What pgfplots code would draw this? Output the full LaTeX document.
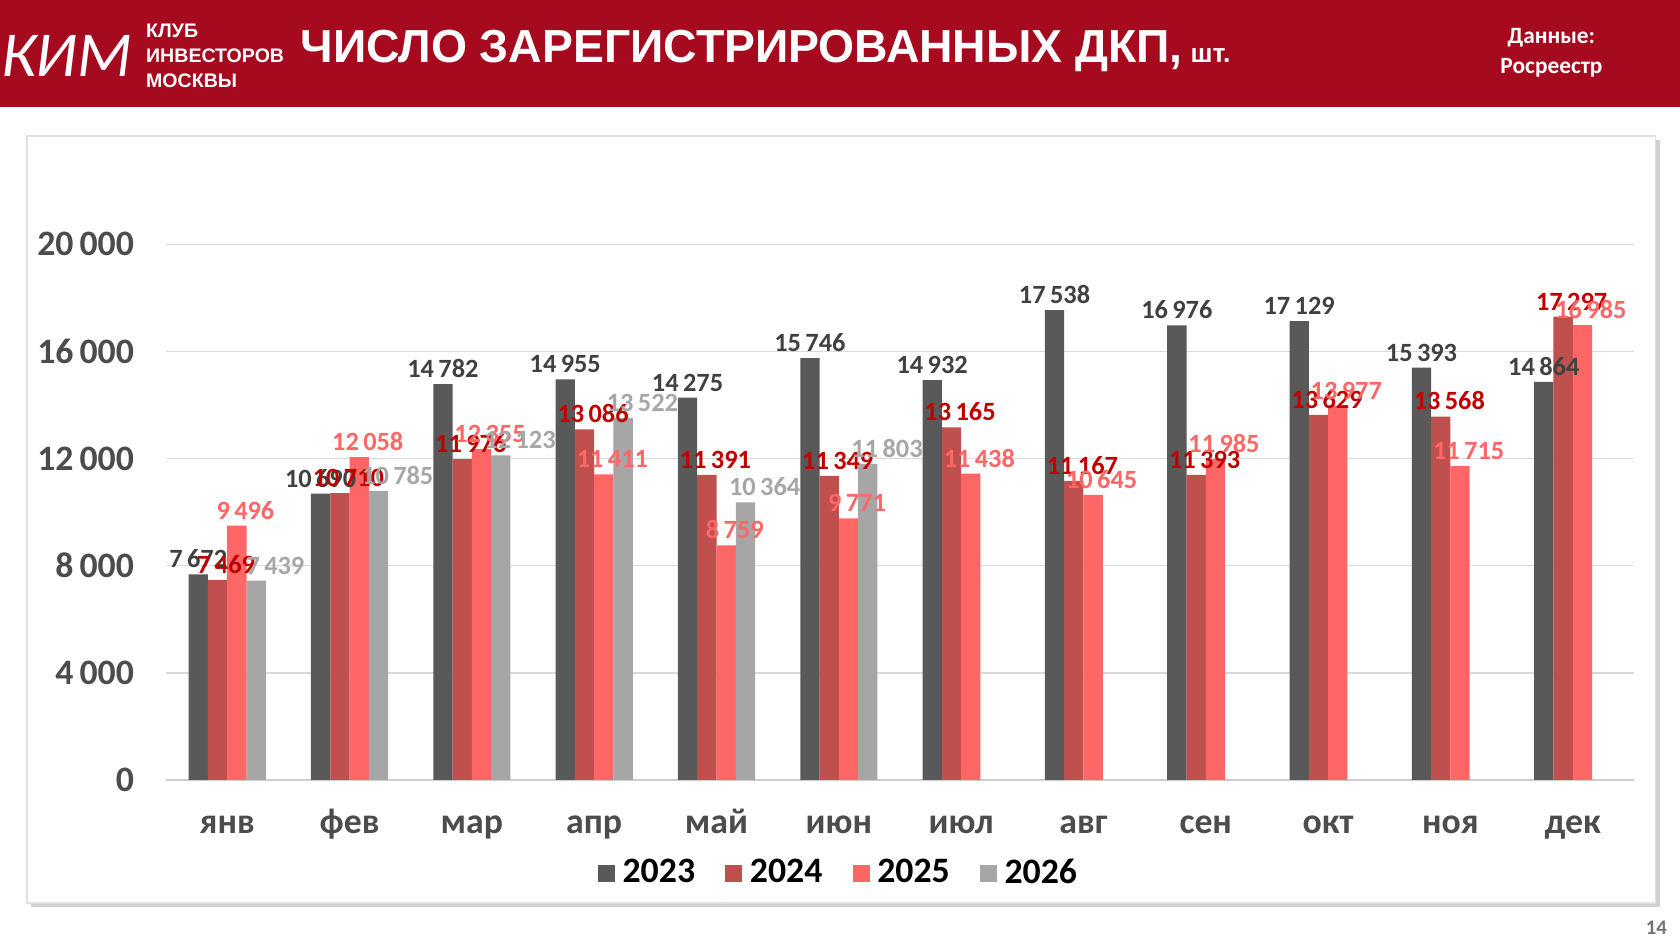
\documentclass[border=0pt]{standalone}
\usepackage{pgfplots}
\pgfplotsset{compat=1.18}
\usepackage{fontspec}
\setmainfont{Carlito}
\newfontfamily\hfont{Liberation Sans}
\definecolor{hdr}{HTML}{A50A1E}
\definecolor{cA}{HTML}{595959}
\definecolor{cB}{HTML}{C0504D}
\definecolor{cC}{HTML}{FF6666}
\definecolor{cD}{HTML}{A6A6A6}
\definecolor{lA}{HTML}{404040}
\definecolor{lB}{HTML}{C00000}
\begin{document}
\begin{tikzpicture}[x=0.1mm,y=0.1mm]
\path[use as bounding box] (0,0) rectangle (1568,880);
\fill[white] (0,0) rectangle (1568,880);
\fill[hdr] (0,780) rectangle (1568,880);
\node[white,font=\itshape\fontsize{17}{17}\selectfont] at (62,828) {КИМ};
\node[white,anchor=west,align=left,font=\hfont\bfseries\fontsize{5.2}{6.6}\selectfont] at (124,828) {КЛУБ\\ИНВЕСТОРОВ\\МОСКВЫ};
\node[white,anchor=west,font=\hfont\bfseries\fontsize{12.3}{14}\selectfont] at (268,832) {ЧИСЛО ЗАРЕГИСТРИРОВАННЫХ ДКП,\,{\fontsize{7}{8}\selectfont шт.}};
\node[white,align=center,font=\bfseries\fontsize{6.2}{8}\selectfont] at (1448,831) {Данные:\\Росреестр};
\fill[black!18] (29,33) rectangle (1549,749);
\fill[white] (25,37) rectangle (1545,753);
\draw[black!12] (25,37) rectangle (1545,753);
\node[black!55,font=\bfseries\fontsize{5.5}{6}\selectfont] at (1546,14) {14};
\begin{axis}[at={(1.55cm,1.52cm)},anchor=south west,scale only axis,
 width=13.7cm,height=5cm,ymin=0,ymax=20000,xmin=-0.5,xmax=11.5,
 ybar=0pt,bar width=1.8mm,clip=false,scaled y ticks=false,
 axis line style={draw=none},x axis line style={draw=black!20},axis x line*=bottom,axis y line=left,
 ymajorgrids,grid style={black!15},major tick length=0pt,
 ytick={0,4000,...,20000},xtick=data,
 xticklabels={янв,фев,мар,апр,май,июн,июл,авг,сен,окт,ноя,дек},
 /pgf/number format/1000 sep={\,},/pgf/number format/assume math mode=true,
 yticklabel style={font=\bfseries\fontsize{9.5}{10}\selectfont,text=black!70,/pgf/number format/fixed,xshift=-5pt},
 xticklabel style={font=\bfseries\fontsize{9.5}{10}\selectfont,text=black!70,yshift=-3pt,text height=1.6ex,text depth=0.4ex},
 nodes near coords,
 every node near coord/.append style={font=\bfseries\fontsize{7}{7}\selectfont,/pgf/number format/1000 sep={\,},inner sep=1.5pt},
 legend style={at={(0.46,-0.175)},anchor=center,draw=none,fill=none,font=\bfseries\fontsize{9.5}{11}\selectfont,
   legend columns=4,/tikz/every even column/.append style={column sep=6pt}},
 legend image code/.code={\fill[#1] (0,-0.8mm) rectangle (1.6mm,0.8mm);}]
\addplot[fill=cA,draw=none,nodes near coords style={text=lA}] coordinates {(0,7672)(1,10690)(2,14782)(3,14955)(4,14275)(5,15746)(6,14932)(7,17538)(8,16976)(9,17129)(10,15393)(11,14864)};
\addplot[fill=cB,draw=none,nodes near coords style={text=lB,xshift=0.8mm}] coordinates {(0,7469)(1,10710)(2,11976)(3,13086)(4,11391)(5,11349)(6,13165)(7,11167)(8,11393)(9,13629)(10,13568)(11,17297)};
\addplot[fill=cC,draw=none,nodes near coords style={text=cC,xshift=0.8mm}] coordinates {(0,9496)(1,12058)(2,12355)(3,11411)(4,8759)(5,9771)(6,11438)(7,10645)(8,11985)(9,13977)(10,11715)(11,16985)};
\addplot[fill=cD,draw=none,nodes near coords style={text=cD,xshift=1.8mm}] coordinates {(0,7439)(1,10785)(2,12123)(3,13522)(4,10364)(5,11803)};
\legend{2023,2024,2025,2026}
\end{axis}
\end{tikzpicture}
\end{document}
